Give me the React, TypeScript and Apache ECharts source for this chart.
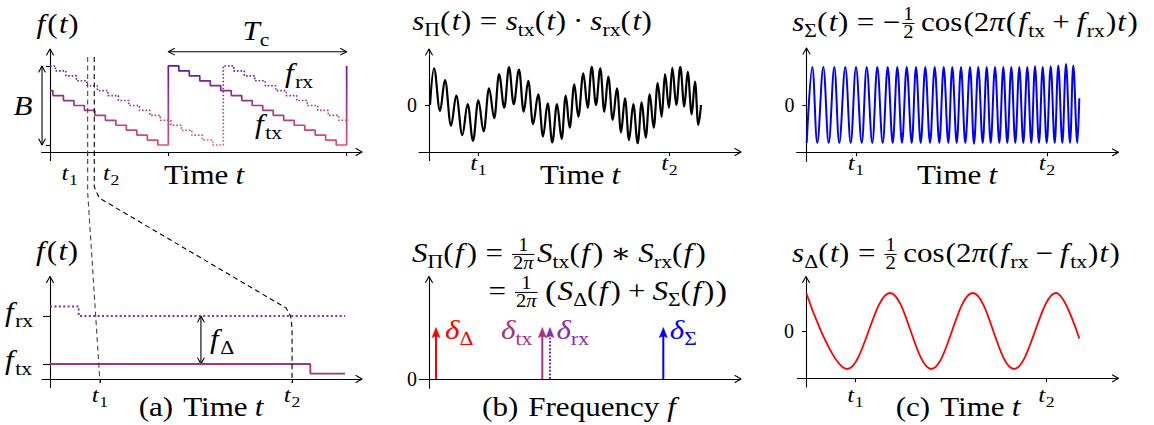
import React, { useEffect, useRef } from 'react';
import * as echarts from 'echarts';

const WIDTH = 1154;
const HEIGHT = 425;

// ---- Overview: stepped transmit / receive chirps (time in step periods, frequency in step levels)
const txSteps: number[][] = [
  [0, 11], [0.28, 10], [1.28, 9], [2.28, 8], [3.28, 7], [4.28, 6], [5.28, 5], [6.28, 4],
  [7.28, 3], [8.28, 2], [9.28, 1], [10.28, 0],
  [11.28, 16], [12.28, 15], [13.28, 14], [14.28, 13], [15.28, 12], [16.28, 11], [17.28, 10],
  [18.28, 9], [19.28, 8], [20.28, 7], [21.28, 6], [22.28, 5], [23.28, 4], [24.28, 3],
  [25.28, 2], [26.28, 1], [27.28, 0], [28.28, 16],
];
const rxSteps: number[][] = [
  [0, 16], [0.52, 15], [1.52, 14], [2.52, 13], [3.52, 12], [4.52, 11], [5.52, 10], [6.52, 9],
  [7.52, 8], [8.52, 7], [9.52, 6], [10.52, 5], [11.52, 4], [12.52, 3], [13.52, 2], [14.52, 1],
  [15.52, 0], [16.52, 16], [17.52, 15], [18.52, 14], [19.52, 13], [20.52, 12], [21.52, 11],
  [22.52, 10], [23.52, 9], [24.52, 8], [25.52, 7], [26.52, 6], [27.52, 5], [28.5, 5],
];
const chirpEdges = [11.28, 28.28];
const bandEdges = [0, 16];
const beatTimes = [3.59, 4.22]; // t1, t2
const bandArrowTime = -0.76;
const periodArrowLevel = 18.89;

// ---- Close-up between t1 and t2
const zoomTx: number[][] = [[3.426, 7], [4.28, 6], [4.394, 6]];
const zoomRx: number[][] = [[3.426, 13], [3.52, 12], [4.394, 12]];
const zoomLevels = [7, 12]; // f_tx, f_rx
const beatArrowTime = 3.921;

// ---- Mixer signals, given by their extrema (time in arbitrary units)
const sigTicks = [49.5, 240.5];
const productWave: number[][] = [
  [1, 0], [5, 0.94], [11, -0.15], [16, 0.64], [22, -0.53], [27.3, 0.24], [33.3, -0.77],
  [38.7, 0.02], [44, -0.92], [49.3, 0.12], [54.7, -0.68], [60, 0.43], [65.3, -0.34],
  [70, 0.79], [75.3, -0.07], [80, 0.97], [84.7, 0.02], [90, 0.91], [94.7, -0.17],
  [99.3, 0.62], [104, -0.49], [109.3, 0.27], [114, -0.81], [118.7, 0.04], [123.3, -0.96],
  [128, 0.02], [132.7, -0.87], [136.7, 0.24], [140.7, -0.58], [145.3, 0.53], [149.3, -0.3],
  [154.3, 0.81], [158.7, -0.07], [162.7, 0.98], [167, 0], [171.3, 0.94], [175.3, -0.17],
  [179.3, 0.73], [183.7, -0.38], [188, 0.43], [192, -0.7], [196, 0.17], [200, -0.9],
  [204.3, 0.02], [208.7, -0.98], [212.7, 0.07], [216.7, -0.84], [220.7, 0.27], [224.7, -0.58],
  [228.7, 0.56], [232.7, -0.3], [236, 0.79], [240, -0.07], [243.3, 0.95], [247.3, 0],
  [251.3, 0.98], [255.3, -0.04], [258.7, 0.85], [262.7, -0.24], [266, 0.6], [269.3, -0.51],
  [272, 0],
];
const sumWave: number[][] = [
  [0.2, -0.5], [5.8, 0.5], [10.8, -0.5], [16.8, 0.5], [22.2, -0.5], [27.8, 0.5], [32.8, -0.5],
  [38.8, 0.5], [44.2, -0.5], [49.5, 0.5], [55.2, -0.5], [60.2, 0.5], [65.8, -0.5], [70.8, 0.5],
  [76.2, -0.5], [81.2, 0.5], [86.2, -0.5], [90.8, 0.5], [95.5, -0.5], [100.2, 0.5], [105.2, -0.5],
  [109.5, 0.5], [114.2, -0.5], [118.8, 0.5], [123.5, -0.5], [128.2, 0.5], [132.8, -0.5],
  [137.2, 0.5], [141.8, -0.5], [145.8, 0.5], [150.2, -0.5], [154.5, 0.5], [158.8, -0.5],
  [163.5, 0.5], [167.5, -0.51], [171.8, 0.5], [176.2, -0.5], [180.2, 0.5], [184.2, -0.5],
  [188.5, 0.5], [192.8, -0.5], [196.8, 0.5], [200.8, -0.5], [204.8, 0.5], [208.8, -0.5],
  [212.8, 0.5], [216.8, -0.5], [220.8, 0.5], [224.8, -0.5], [228.5, 0.51], [232.5, -0.5],
  [236.2, 0.5], [240.2, -0.5], [244.2, 0.51], [248.2, -0.5], [251.8, 0.52], [255.8, -0.5],
  [259.5, 0.54], [263.5, -0.5], [266.8, 0.52], [270.8, -0.5], [272.8, 0.09],
];
const diffWave: number[][] = [
  [0.5, 0.49], [41.3, -0.5], [84, 0.5], [125.3, -0.5], [166.7, 0.5], [208, -0.5], [250, 0.5],
  [273.3, -0.1],
];

// ---- Spectrum lines: δΔ, δtx, δrx, δΣ
const specFreqs = [7, 113.3, 121, 234.3];
const specHeights = [1, 1, 1, 1];

// ---- Colours
const CHIRP_TOP = '#5e1aa8';
const CHIRP_BOTTOM = '#e2506e';
const TX_COLOR = '#a8327f';
const RX_COLOR = '#8a2ba8';
const RED = '#ff0000';
const BLUE = '#0000ff';

// ---- Typesetting of the math labels
const FONT = "'Liberation Serif', 'DejaVu Serif', serif";
const BASE = 27;
const TICK = 22;
const SX = 1.15;
const REL = 8.5;
const BIN = 7;

type Tok = { t?: string; i?: boolean; k?: number; dy?: number; c?: string; g?: number; fr?: Tok[][] };
type Part = { t?: string; i?: boolean; s: number; x: number; dy: number; c?: string; w?: number; rule?: boolean };

const it = (t: string, c?: string): Tok => ({ t, i: true, c });
const rm = (t: string, c?: string): Tok => ({ t, c });
const big = (t: string): Tok => ({ t, k: 1.12, dy: 0.04 });
const sb = (t: string, c?: string): Tok => ({ t, k: 0.7, dy: 0.22, c });
const sp = (g: number): Tok => ({ g });
const fr = (n: Tok[], d: Tok[]): Tok => ({ fr: [n, d] });

let measureCtx: CanvasRenderingContext2D | null = null;
const fontOf = (size: number, italic: boolean) => `${italic ? 'italic ' : ''}${size}px ${FONT}`;
function textWidth(t: string, size: number, italic: boolean) {
  if (!measureCtx) measureCtx = document.createElement('canvas').getContext('2d');
  measureCtx!.font = fontOf(size, italic);
  return measureCtx!.measureText(t).width * SX;
}

function typeset(toks: Tok[], size: number): { w: number; parts: Part[] } {
  let x = 0;
  const parts: Part[] = [];
  for (const tk of toks) {
    if (tk.g !== undefined) {
      x += tk.g;
      continue;
    }
    if (tk.fr) {
      const s2 = size * 0.66;
      const num = typeset(tk.fr[0], s2);
      const den = typeset(tk.fr[1], s2);
      const w = Math.max(num.w, den.w) + 3;
      for (const p of num.parts) parts.push({ ...p, x: x + (w - num.w) / 2 + p.x, dy: p.dy - 0.42 * size });
      for (const p of den.parts) parts.push({ ...p, x: x + (w - den.w) / 2 + p.x, dy: p.dy + 0.25 * size });
      parts.push({ rule: true, s: size, x: x + 0.5, w: w - 1, dy: -0.28 * size });
      x += w;
      continue;
    }
    const s = size * (tk.k ?? 1);
    parts.push({ t: tk.t, i: tk.i, s, x, dy: (tk.dy ?? 0) * size, c: tk.c });
    x += textWidth(tk.t!, s, !!tk.i);
  }
  return { w: x, parts };
}

function place(toks: Tok[], x: number, base: number, align = 'left', size = BASE, color = '#000'): any[] {
  const { w, parts } = typeset(toks, size);
  const x0 = align === 'left' ? x : align === 'center' ? x - w / 2 : x - w;
  return parts.map((p) =>
    p.rule
      ? {
          type: 'line', z: 50, silent: true,
          shape: { x1: x0 + p.x, y1: base + p.dy, x2: x0 + p.x + (p.w ?? 0), y2: base + p.dy },
          style: { stroke: color, lineWidth: 1 },
        }
      : {
          type: 'text', z: 50, silent: true, x: x0 + p.x, y: base + p.dy - 0.34 * p.s, scaleX: SX,
          style: {
            text: p.t, fontFamily: FONT, fontSize: p.s, fontStyle: p.i ? 'italic' : 'normal',
            fill: p.c ?? color, align: 'left', verticalAlign: 'middle',
          },
        },
  );
}

// Label token lists
const fArg = (v: string): Tok[] => [rm('('), sp(1.5), it(v), sp(v === 'f' ? 3 : 0.5), rm(')')];
const F_OF_T = [it('f'), sp(2), ...fArg('t')];
const T_C = [it('T'), sb('c')];
const F_RX = [it('f'), sp(1.5), sb('rx')];
const F_TX = [it('f'), sp(1.5), sb('tx')];
const F_DELTA = [it('f'), sp(1.5), sb('Δ')];
const tSub = (n: string) => [it('t'), sp(0.5), sb(n)];
const TIME = [rm('Time'), sp(7), it('t')];
const HALF = fr([rm('1')], [rm('2')]);
const INV_2PI = fr([rm('1')], [rm('2'), it('π')]);
const TITLE_PROD = [
  it('s'), sb('Π'), ...fArg('t'), sp(REL), rm('='), sp(REL),
  it('s'), sb('tx'), ...fArg('t'), sp(BIN), rm('·'), sp(BIN),
  it('s'), sb('rx'), ...fArg('t'),
];
const TITLE_SUM = [
  it('s'), sb('Σ'), ...fArg('t'), sp(REL), rm('='), sp(REL), rm('−'), sp(1.5), HALF, sp(6),
  rm('cos'), sp(1), rm('(2'), it('π'), sp(1), rm('('), sp(2), it('f'), sp(1.5), sb('tx'), sp(BIN), rm('+'), sp(BIN),
  it('f'), sp(1.5), sb('rx'), sp(1), rm(')'), sp(1), it('t'), sp(1.5), rm(')'),
];
const TITLE_DIFF = [
  it('s'), sb('Δ'), ...fArg('t'), sp(REL), rm('='), sp(REL), HALF, sp(6),
  rm('cos'), sp(1), rm('(2'), it('π'), sp(1), rm('('), sp(2), it('f'), sp(1.5), sb('rx'), sp(BIN), rm('−'), sp(BIN),
  it('f'), sp(1.5), sb('tx'), sp(1), rm(')'), sp(1), it('t'), sp(1.5), rm(')'),
];
const SPEC_PREFIX = [it('S'), sb('Π'), ...fArg('f'), sp(REL)];
const SPEC_LINE1 = [
  ...SPEC_PREFIX, rm('='), sp(REL), INV_2PI, sp(2),
  it('S'), sb('tx'), ...fArg('f'), sp(BIN), rm('∗'), sp(BIN),
  it('S'), sb('rx'), ...fArg('f'),
];
const SPEC_LINE2 = [
  rm('='), sp(REL), INV_2PI, sp(7), big('('), sp(1),
  it('S'), sb('Δ'), ...fArg('f'), sp(BIN), rm('+'), sp(BIN),
  it('S'), sb('Σ'), ...fArg('f'), sp(1), big(')'),
];
const SPEC_LABELS = [
  [it('δ', RED), sb('Δ', RED)],
  [it('δ', TX_COLOR), sb('tx', TX_COLOR)],
  [it('δ', RX_COLOR), sb('rx', RX_COLOR)],
  [it('δ', BLUE), sb('Σ', BLUE)],
];
const SPEC_COLORS = [RED, TX_COLOR, RX_COLOR, BLUE];

// ---- Panel frames: pixel box of the axes and the pixel mapping of values
type Frame = {
  left: number; right: number; top: number; bottom: number;
  ox: number; kx: number; oy: number; ky: number; axisX: number; axisY: number;
};
const FRAMES: Record<string, Frame> = {
  overview: { left: 41.6, right: 361.5, top: 49.5, bottom: 160.5, ox: 50, kx: 10.49, oy: 145, ky: 4.94, axisX: 152, axisY: 50 },
  product: { left: 419, right: 740.5, top: 49.5, bottom: 160.5, ox: 429, kx: 1, oy: 105, ky: 39, axisX: 152, axisY: 429 },
  sum: { left: 796.7, right: 1118, top: 48.5, bottom: 161.5, ox: 806.5, kx: 1, oy: 105, ky: 76, axisX: 152.3, axisY: 806.5 },
  spectrum: { left: 419.3, right: 740.5, top: 277, bottom: 388.3, ox: 429, kx: 1, oy: 379, ky: 51.5, axisX: 379, axisY: 429 },
  zoom: { left: 42, right: 361.5, top: 277, bottom: 387.5, ox: -994.2, kx: 304.8, oy: 431.2, ky: 9.6, axisX: 379, axisY: 50 },
  diff: { left: 797.3, right: 1118, top: 277, bottom: 387, ox: 806, kx: 1, oy: 331, ky: 76, axisX: 378.3, axisY: 806 },
  annot: { left: 41.6, right: 361.5, top: 20, bottom: 160.5, ox: 50, kx: 10.49, oy: 145, ky: 4.94, axisX: 152, axisY: 50 },
};
const VISIBLE_FRAMES = ['overview', 'product', 'sum', 'spectrum', 'zoom', 'diff'];

const AXIS_LINE = { color: '#000', width: 1.1 };

function gridOf(f: Frame) {
  return { left: f.left, top: f.top, width: f.right - f.left, height: f.bottom - f.top, containLabel: false, outerBoundsMode: 'none' };
}

function xAxisOf(f: Frame, gi: number, ticks: number[], show = true) {
  return {
    type: 'value', gridIndex: gi, show,
    min: (f.left - f.ox) / f.kx, max: (f.right - f.ox) / f.kx,
    offset: f.axisX - f.bottom,
    axisLine: { show: true, onZero: false, lineStyle: AXIS_LINE },
    axisTick: ticks.length
      ? { show: true, customValues: ticks, length: 4, inside: false, lineStyle: AXIS_LINE }
      : { show: false },
    axisLabel: { show: false },
    splitLine: { show: false },
  };
}

function yAxisOf(f: Frame, gi: number, ticks: number[], labels: number[], tickLen = 4, show = true) {
  return {
    type: 'value', gridIndex: gi, show,
    min: (f.oy - f.bottom) / f.ky, max: (f.oy - f.top) / f.ky,
    offset: f.left - f.axisY,
    axisLine: { show: true, onZero: false, lineStyle: AXIS_LINE },
    axisTick: ticks.length
      ? { show: true, customValues: ticks, length: tickLen, inside: false, lineStyle: AXIS_LINE }
      : { show: false },
    axisLabel: labels.length
      ? { show: true, customValues: labels, margin: 12, color: '#000', fontFamily: FONT, fontSize: 20 }
      : { show: false },
    splitLine: { show: false },
  };
}

// Arrow head at tip pointing along unit vector (ux, uy); open "to" tip or filled triangle
function arrowHead(tip: number[], ux: number, uy: number, color: string, filled: boolean, len: number, half: number) {
  const px = -uy;
  const py = ux;
  const a = [tip[0] - ux * len + px * half, tip[1] - uy * len + py * half];
  const b = [tip[0] - ux * len - px * half, tip[1] - uy * len - py * half];
  if (filled) {
    const n = [tip[0] - ux * len * 0.85, tip[1] - uy * len * 0.85];
    return { type: 'polygon', shape: { points: [tip, a, n, b] }, style: { fill: color, stroke: color, lineWidth: 0.5 } };
  }
  return {
    type: 'polyline', shape: { points: [a, tip, b] },
    style: { stroke: color, fill: null, lineWidth: 1.1, lineJoin: 'round', lineCap: 'round' },
  };
}

type ArrowOpts = { colors?: string[]; dashes?: (number[] | null)[]; both: boolean; filled: boolean; len: number; half: number; width: number };

// Custom series: one arrow per [x0, y0, x1, y1] item, placed through the grid's axes
function arrowSeries(gi: number, segs: number[][], o: ArrowOpts) {
  return {
    type: 'custom', xAxisIndex: gi, yAxisIndex: gi, silent: true, clip: false, data: segs,
    renderItem: (params: any, api: any) => {
      const a = api.coord([api.value(0), api.value(1)]);
      const b = api.coord([api.value(2), api.value(3)]);
      const color = o.colors?.[params.dataIndex] ?? '#000';
      const dash = o.dashes?.[params.dataIndex] ?? null;
      const L = Math.hypot(b[0] - a[0], b[1] - a[1]);
      const ux = (b[0] - a[0]) / L;
      const uy = (b[1] - a[1]) / L;
      const inset = o.filled ? o.len * 0.8 : 0;
      const start = o.both ? [a[0] + ux * inset, a[1] + uy * inset] : a;
      const end = [b[0] - ux * inset, b[1] - uy * inset];
      const children: any[] = [
        {
          type: 'line', shape: { x1: start[0], y1: start[1], x2: end[0], y2: end[1] },
          style: { stroke: color, lineWidth: o.width, lineDash: dash ?? undefined },
        },
        arrowHead(b, ux, uy, color, o.filled, o.len, o.half),
      ];
      if (o.both) children.push(arrowHead(a, -ux, -uy, color, o.filled, o.len, o.half));
      return { type: 'group', children };
    },
  };
}

const chirpGradient = () =>
  new echarts.graphic.LinearGradient(0, 0, 0, 1, [
    { offset: 0, color: CHIRP_TOP },
    { offset: 1, color: CHIRP_BOTTOM },
  ]);

function buildOption() {
  const F = FRAMES;
  const waveBase = { type: 'line', symbol: 'none', showSymbol: false, silent: true, smooth: 0.37 };
  const openArrow = { both: true, filled: false, len: 6, half: 3.2, width: 1.1 };
  return {
    animation: false,
    backgroundColor: '#fff',
    grid: [F.overview, F.product, F.sum, F.spectrum, F.zoom, F.diff, F.annot].map(gridOf),
    xAxis: [
      xAxisOf(F.overview, 0, [...beatTimes, ...chirpEdges]),
      xAxisOf(F.product, 1, sigTicks),
      xAxisOf(F.sum, 2, sigTicks),
      xAxisOf(F.spectrum, 3, []),
      xAxisOf(F.zoom, 4, beatTimes),
      xAxisOf(F.diff, 5, sigTicks),
      xAxisOf(F.annot, 6, [], false),
    ],
    yAxis: [
      yAxisOf(F.overview, 0, bandEdges, []),
      yAxisOf(F.product, 1, [0], [0]),
      yAxisOf(F.sum, 2, [0], [0]),
      yAxisOf(F.spectrum, 3, [], [0]),
      yAxisOf(F.zoom, 4, zoomLevels, [], 7),
      yAxisOf(F.diff, 5, [0], [0]),
      yAxisOf(F.annot, 6, [], [], 4, false),
    ],
    series: [
      {
        type: 'line', xAxisIndex: 0, yAxisIndex: 0, data: txSteps, step: 'end', symbol: 'none', silent: true,
        lineStyle: { color: chirpGradient(), width: 1.7 },
      },
      {
        type: 'line', xAxisIndex: 0, yAxisIndex: 0, data: rxSteps, step: 'end', symbol: 'none', silent: true,
        lineStyle: { color: chirpGradient(), width: 1.6, type: [1.6, 1.9] },
      },
      arrowSeries(6, [
        [bandArrowTime, bandEdges[0], bandArrowTime, bandEdges[1]],
        [chirpEdges[0], periodArrowLevel, chirpEdges[1], periodArrowLevel],
      ], openArrow),
      { ...waveBase, xAxisIndex: 1, yAxisIndex: 1, data: productWave, smoothMonotone: 'x', lineStyle: { color: '#000', width: 2.2 } },
      { ...waveBase, xAxisIndex: 2, yAxisIndex: 2, data: sumWave, lineStyle: { color: BLUE, width: 2 } },
      arrowSeries(3, specFreqs.map((f, i) => [f, 0, f, specHeights[i]]), {
        colors: SPEC_COLORS, dashes: [null, null, [2, 1.6], null],
        both: false, filled: true, len: 10, half: 4, width: 2,
      }),
      {
        type: 'line', xAxisIndex: 4, yAxisIndex: 4, data: zoomTx, step: 'end', symbol: 'none', silent: true,
        lineStyle: { color: TX_COLOR, width: 1.8 },
      },
      {
        type: 'line', xAxisIndex: 4, yAxisIndex: 4, data: zoomRx, step: 'end', symbol: 'none', silent: true,
        lineStyle: { color: RX_COLOR, width: 2, type: [2, 2.4] },
      },
      arrowSeries(4, [[beatArrowTime, zoomLevels[0], beatArrowTime, zoomLevels[1]]], openArrow),
      { ...waveBase, xAxisIndex: 5, yAxisIndex: 5, data: diffWave, lineStyle: { color: RED, width: 1.8 } },
    ],
  };
}

function buildGraphics(chart: any) {
  const pix = (gi: number, x: number, y: number) => chart.convertToPixel({ gridIndex: gi }, [x, y]) as number[];
  const p1 = beatTimes.map((t) => pix(0, t, 0)[0]);
  const p5 = beatTimes.map((t) => pix(4, t, zoomLevels[0])[0]);
  const sig = (gi: number) => sigTicks.map((t) => pix(gi, t, 0)[0]);
  const spec = specFreqs.map((f) => pix(3, f, 0)[0]);
  const els: any[] = [];
  const add = (a: any[]) => els.push(...a);

  // axis arrow tips
  for (const key of VISIBLE_FRAMES) {
    const f = FRAMES[key];
    els.push({ ...arrowHead([f.right + 0.5, f.axisX], 1, 0, '#000', false, 6, 3.4), z: 45, silent: true });
    els.push({ ...arrowHead([f.axisY, f.top - 0.5], 0, -1, '#000', false, 6, 3.4), z: 45, silent: true });
  }

  // overview
  add(place(F_OF_T, 57.5, 33, 'center'));
  add(place(T_C, 256, 40, 'center'));
  add(place([it('B')], 23, 115, 'center'));
  add(place(F_RX, 285, 82));
  add(place(F_TX, 255, 133));
  add(place(tSub('1'), p1[0] - 18, 180, 'center', TICK));
  add(place(tSub('2'), p1[1] + 17, 180, 'center', TICK));
  add(place(TIME, 204, 184, 'center'));

  // product signal
  add(place(TITLE_PROD, 532, 30, 'center'));
  sig(1).forEach((x, i) => add(place(tSub(String(i + 1)), x, 170, 'center', TICK)));
  add(place(TIME, 580, 184, 'center'));

  // sum signal
  add(place(TITLE_SUM, 965, 31, 'center'));
  sig(2).forEach((x, i) => add(place(tSub(String(i + 1)), x, 170, 'center', TICK)));
  add(place(TIME, 957, 184, 'center'));

  // spectrum
  add(place(SPEC_LINE1, 412, 262));
  add(place(SPEC_LINE2, 412 + typeset(SPEC_PREFIX, BASE).w + 3, 300));
  add(place(SPEC_LABELS[0], spec[0] + 9, 339));
  add(place(SPEC_LABELS[1], spec[1] - 10, 339, 'right'));
  add(place(SPEC_LABELS[2], spec[2] + 6.5, 339));
  add(place(SPEC_LABELS[3], spec[3] + 6.5, 339));
  add(place([rm('(b)'), sp(10), rm('Frequency'), sp(8), it('f')], 579, 416, 'center'));

  // close-up
  add(place(F_OF_T, 57, 260, 'center'));
  add(place(F_RX, 5, 321));
  add(place(F_TX, 5, 369));
  add(place(F_DELTA, 210, 348));
  p5.forEach((x, i) => add(place(tSub(String(i + 1)), x, 402, 'center', TICK)));
  add(place([rm('(a)'), sp(10), ...TIME], 201, 416, 'center'));

  // difference signal
  add(place(TITLE_DIFF, 956, 262, 'center'));
  sig(5).forEach((x, i) => add(place(tSub(String(i + 1)), x, 402, 'center', TICK)));
  add(place([rm('(c)'), sp(10), ...TIME], 958, 416, 'center'));

  // dashed guides from t1 / t2 of the overview into the close-up
  const dash = { stroke: '#000', lineWidth: 1.1, lineDash: [5, 3.5], fill: null };
  els.push({
    type: 'polyline', z: 40, silent: true,
    shape: { points: [[p1[0], 57], [p1[0], 192], [p5[0], 383]] },
    style: { ...dash, stroke: '#444' },
  });
  els.push({
    type: 'polyline', z: 40, silent: true,
    shape: {
      points: [
        [p1[1], 57], [p1[1], 187], [p1[1] + 5, 198], [p5[1] - 6, 308],
        [p5[1] - 1.5, 316], [p5[1], 328], [p5[1], 383],
      ],
    },
    style: dash,
  });
  return els;
}

export default function App() {
  const ref = useRef<HTMLDivElement>(null);
  useEffect(() => {
    const chart = echarts.init(ref.current!, null, { renderer: 'svg' });
    chart.setOption(buildOption() as any);
    chart.setOption({ graphic: { elements: buildGraphics(chart) } } as any);
    return () => chart.dispose();
  }, []);
  return (
    <div
      ref={ref}
      style={{ position: 'absolute', left: 0, top: 0, width: WIDTH, height: HEIGHT, background: '#fff' }}
    />
  );
}
